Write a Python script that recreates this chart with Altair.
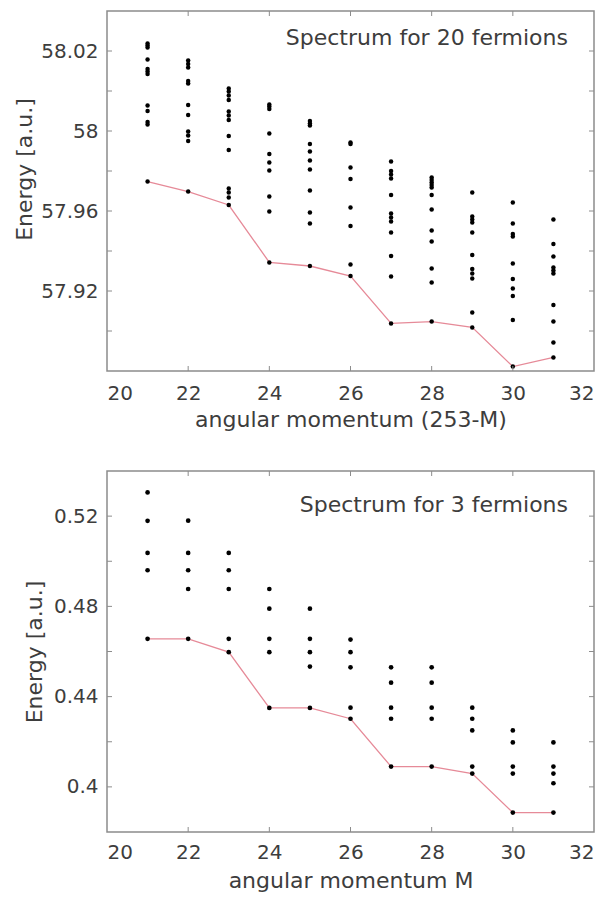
import altair as alt
import pandas as pd

# ---------------- data ----------------
M_VALUES = [21, 22, 23, 24, 25, 26, 27, 28, 29, 30, 31]

# upper panel: 20 fermions, excited levels for each M
E20_M21 = [58.0438, 58.0428, 58.0418, 58.0358, 58.0310, 58.0298, 58.0285, 58.0128, 58.0100, 58.0045, 58.0032]
E20_M22 = [58.0352, 58.0335, 58.0317, 58.0250, 58.0238, 58.0130, 58.0080, 57.9997, 57.9977, 57.9950]
E20_M23 = [58.0213, 58.0197, 58.0177, 58.0155, 58.0097, 58.0077, 58.0055, 57.9975, 57.9905, 57.9713, 57.9692, 57.9668]
E20_M24 = [58.0133, 58.0122, 58.0110, 57.9988, 57.9885, 57.9842, 57.9802, 57.9672, 57.9597]
E20_M25 = [58.0050, 58.0038, 58.0027, 57.9935, 57.9897, 57.9852, 57.9807, 57.9703, 57.9593, 57.9538]
E20_M26 = [57.9942, 57.9935, 57.9818, 57.9760, 57.9618, 57.9525, 57.9333]
E20_M27 = [57.9847, 57.9800, 57.9783, 57.9763, 57.9680, 57.9588, 57.9568, 57.9547, 57.9492, 57.9375, 57.9272]
E20_M28 = [57.9767, 57.9755, 57.9743, 57.9730, 57.9717, 57.9680, 57.9608, 57.9502, 57.9447, 57.9313, 57.9242]
E20_M29 = [57.9692, 57.9572, 57.9558, 57.9543, 57.9493, 57.9380, 57.9310, 57.9288, 57.9263, 57.9093]
E20_M30 = [57.9642, 57.9538, 57.9485, 57.9472, 57.9338, 57.9260, 57.9213, 57.9175, 57.9055]
E20_M31 = [57.9558, 57.9435, 57.9372, 57.9317, 57.9302, 57.9288, 57.9130, 57.9047, 57.8942]
GROUND20 = [57.9747, 57.9697, 57.9630, 57.9343, 57.9325, 57.9275, 57.9038, 57.9047, 57.9018, 57.8822, 57.8868]

# lower panel: 3 fermions, excited levels for each M
E3_M21 = [0.5305, 0.5179, 0.5037, 0.4960]
E3_M22 = [0.5180, 0.5037, 0.4960, 0.4877]
E3_M23 = [0.5037, 0.4960, 0.4877, 0.4656]
E3_M24 = [0.4877, 0.4790, 0.4656, 0.4597]
E3_M25 = [0.4790, 0.4656, 0.4597, 0.4533]
E3_M26 = [0.4653, 0.4597, 0.4530, 0.4351]
E3_M27 = [0.4530, 0.4462, 0.4351, 0.4302]
E3_M28 = [0.4530, 0.4462, 0.4351, 0.4302]
E3_M29 = [0.4351, 0.4302, 0.4250, 0.4090]
E3_M30 = [0.4250, 0.4197, 0.4090, 0.4059]
E3_M31 = [0.4197, 0.4090, 0.4059, 0.4016]
GROUND3 = [0.4656, 0.4656, 0.4597, 0.4350, 0.4350, 0.4302, 0.4090, 0.4090, 0.4059, 0.3886, 0.3886]

X_TICKS = [20, 22, 24, 26, 28, 30, 32]
X_MINOR = [22, 24, 26, 28, 30]
Y20_LABELED = [57.92, 57.96, 58.00, 58.04]
Y20_MARKS = [57.90, 57.92, 57.94, 57.96, 57.98, 58.00, 58.02, 58.04]
Y3_LABELED = [0.40, 0.44, 0.48, 0.52]
Y3_MARKS = [0.40, 0.42, 0.44, 0.46, 0.48, 0.50, 0.52]

# ---------------- style ----------------
FONT = "DejaVu Sans"
TEXT = "#3d3d3d"
FRAME = "#8c8c8c"
PINK = "#e68a98"
W = 487


def panel(levels, ground, y_domain, y_labeled, y_marks, x_title, note, H,
          label_expr, x_label_pad, x_title_pad, y_title_pad, y_title_y, note_y, dot):
    rows = []
    for m, vals in zip(M_VALUES, levels):
        for v in vals:
            rows.append({"M": m, "E": v})
    for m, v in zip(M_VALUES, ground):
        rows.append({"M": m, "E": v})
    dots = pd.DataFrame(rows)
    gdf = pd.DataFrame({"M": M_VALUES, "E": ground})

    xs = alt.Scale(domain=[20, 32], nice=False, zero=False)
    ys = alt.Scale(domain=y_domain, nice=False, zero=False)

    yaxis_kw = dict(values=y_labeled, title="Energy [a.u.]", labelPadding=9,
                    titlePadding=y_title_pad, labelExpr=label_expr)
    if y_title_y is not None:
        yaxis_kw["titleY"] = y_title_y
    x_axis = alt.Axis(values=X_TICKS, title=x_title, labelPadding=x_label_pad,
                      titlePadding=x_title_pad, format="d")
    y_axis = alt.Axis(**yaxis_kw)
    x_enc = alt.X("M:Q", scale=xs, axis=x_axis)
    y_enc = alt.Y("E:Q", scale=ys, axis=y_axis)

    line = alt.Chart(gdf).mark_line(color=PINK, strokeWidth=1.3).encode(x=x_enc, y=y_enc)
    pts = alt.Chart(dots).mark_circle(color="black", size=dot, opacity=1).encode(x=x_enc, y=y_enc)

    ytd = pd.DataFrame({"E": y_marks})
    xtd = pd.DataFrame({"M": X_MINOR})
    left_t = alt.Chart(ytd).mark_rule(color=FRAME, strokeWidth=1).encode(
        x=alt.value(0), x2=alt.value(5), y=y_enc)
    right_t = alt.Chart(ytd).mark_rule(color=FRAME, strokeWidth=1).encode(
        x=alt.value(W - 5), x2=alt.value(W), y=y_enc)
    bot_t = alt.Chart(xtd).mark_rule(color=FRAME, strokeWidth=1).encode(
        x=x_enc, y=alt.value(H - 5), y2=alt.value(H))
    top_t = alt.Chart(xtd).mark_rule(color=FRAME, strokeWidth=1).encode(
        x=x_enc, y=alt.value(0), y2=alt.value(5))

    txt = alt.Chart(pd.DataFrame({"t": [note]})).mark_text(
        align="right", baseline="middle", font=FONT, fontSize=22, color=TEXT
    ).encode(x=alt.value(461), y=alt.value(note_y), text="t:N")

    return alt.layer(line, pts, left_t, right_t, bot_t, top_t, txt).properties(width=W, height=H)


top = panel(
    [E20_M21, E20_M22, E20_M23, E20_M24, E20_M25, E20_M26, E20_M27, E20_M28, E20_M29, E20_M30, E20_M31],
    GROUND20, [57.88, 58.06], Y20_LABELED, Y20_MARKS,
    "angular momentum (253-M)", "Spectrum for 20 fermions", 360,
    "datum.value > 58.03 ? '58.02' : format(datum.value, '~g')", 12, 6, 4, 158, 27, 20)

bottom = panel(
    [E3_M21, E3_M22, E3_M23, E3_M24, E3_M25, E3_M26, E3_M27, E3_M28, E3_M29, E3_M30, E3_M31],
    GROUND3, [0.38, 0.54], Y3_LABELED, Y3_MARKS,
    "angular momentum M", "Spectrum for 3 fermions", 361,
    "format(datum.value, '~g')", 10, 8, 7, None, 34, 22)

chart = alt.vconcat(top, bottom, spacing=38).properties(
    padding={"left": 4, "top": 1, "right": 0, "bottom": 0}
).configure_view(
    stroke=FRAME, strokeWidth=1.5
).configure_axis(
    domain=False, ticks=False, tickSize=0, grid=False,
    labelFont=FONT, labelFontSize=20, labelColor=TEXT,
    titleFont=FONT, titleFontSize=22, titleColor=TEXT, titleFontWeight="normal"
)

chart.save("out.html", embed_options={"renderer": "svg", "actions": False})
